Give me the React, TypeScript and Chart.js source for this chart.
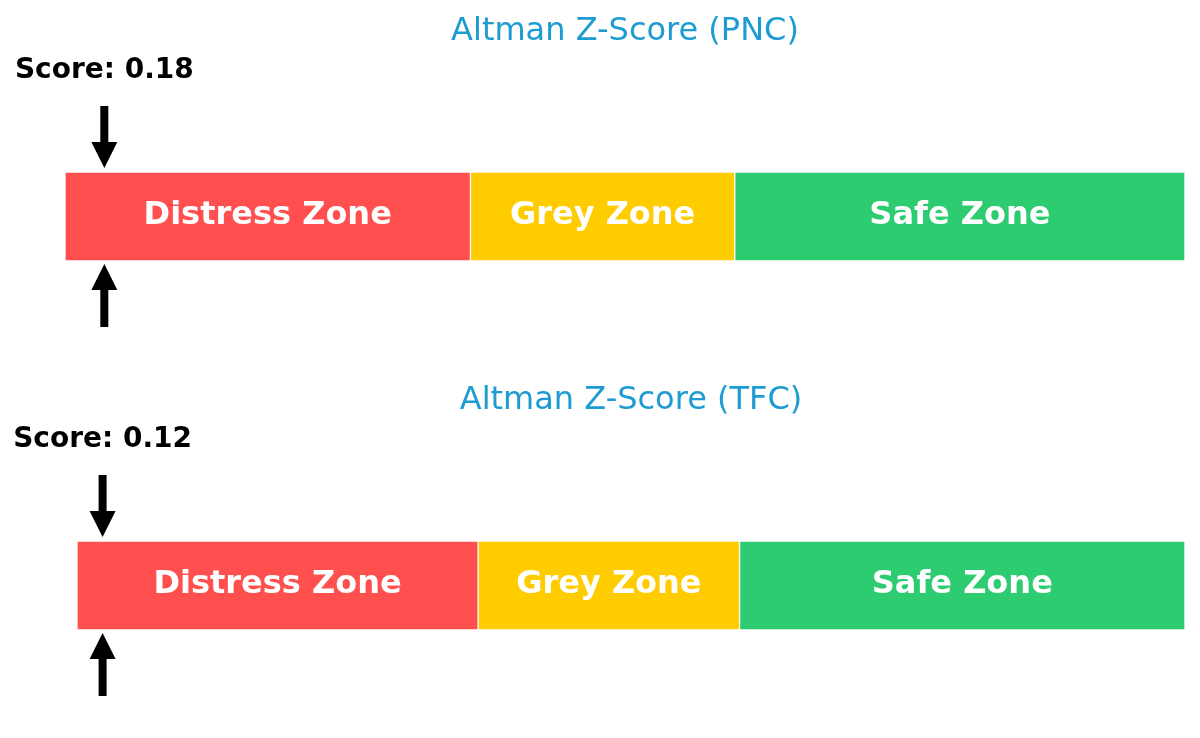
import React, { useEffect, useRef } from 'react';
import { Chart, registerables } from 'chart.js';

Chart.register(...registerables);

// data
const companies = ['PNC', 'TFC'];
const scores = [0.18, 0.12];
const zoneNames = ['Distress Zone', 'Grey Zone', 'Safe Zone'];
const zoneStarts = [0, 1.81, 2.99];
const zoneEnds = [1.81, 2.99, 5];
const axisMin = 0;
const axisMax = 5;

// styling
const zoneColors = ['#ff4f4f', '#ffcc00', '#2ecc71'];
const titleColor = '#1d9bd3';
const leftPads = [65, 77];

const overlayPlugin = {
  id: 'zoneOverlay',
  afterDatasetsDraw(chart: any, _args: any, opts: any) {
    const ctx = chart.ctx;
    const area = chart.chartArea;
    ctx.save();
    // zone labels in the middle of each bar
    ctx.fillStyle = '#ffffff';
    ctx.font = 'bold 32px "DejaVu Sans"';
    ctx.textAlign = 'center';
    ctx.textBaseline = 'middle';
    chart.data.datasets.forEach((ds: any, i: number) => {
      const el = chart.getDatasetMeta(i).data[0];
      if (!el) return;
      const { x, base, y } = el.getProps(['x', 'base', 'y'], true);
      ctx.fillText(ds.label, (x + base) / 2, y - 1);
    });

    // score marker
    const sx = chart.scales.x.getPixelForValue(opts.score) - 1;
    ctx.fillStyle = '#000000';
    ctx.font = 'bold 28px "DejaVu Sans"';
    ctx.fillText('Score: ' + opts.score.toFixed(2), sx, area.top - 101);

    const shaft = 4;
    const head = 13;
    // arrow above, pointing down
    ctx.beginPath();
    ctx.moveTo(sx - shaft, area.top - 66);
    ctx.lineTo(sx + shaft, area.top - 66);
    ctx.lineTo(sx + shaft, area.top - 30);
    ctx.lineTo(sx + head, area.top - 30);
    ctx.lineTo(sx, area.top - 4);
    ctx.lineTo(sx - head, area.top - 30);
    ctx.lineTo(sx - shaft, area.top - 30);
    ctx.closePath();
    ctx.fill();
    // arrow below, pointing up
    ctx.beginPath();
    ctx.moveTo(sx - shaft, area.bottom + 66);
    ctx.lineTo(sx + shaft, area.bottom + 66);
    ctx.lineTo(sx + shaft, area.bottom + 29);
    ctx.lineTo(sx + head, area.bottom + 29);
    ctx.lineTo(sx, area.bottom + 3);
    ctx.lineTo(sx - head, area.bottom + 29);
    ctx.lineTo(sx - shaft, area.bottom + 29);
    ctx.closePath();
    ctx.fill();
    ctx.restore();
  },
};

function ZScoreBar({ company, score, padLeft }: { company: string; score: number; padLeft: number }) {
  const canvasRef = useRef<HTMLCanvasElement>(null);

  useEffect(() => {
    if (!canvasRef.current) return;
    const chart = new Chart(canvasRef.current, {
      type: 'bar',
      data: {
        labels: [company],
        datasets: zoneNames.map((name, i) => ({
          label: name,
          data: [[zoneStarts[i], zoneEnds[i]]],
          backgroundColor: zoneColors[i],
          borderColor: '#ffffff',
          borderWidth: 1,
          borderSkipped: false,
          grouped: false,
          barPercentage: 1,
          categoryPercentage: 1,
        })) as any,
      },
      options: {
        indexAxis: 'y',
        animation: false,
        responsive: true,
        maintainAspectRatio: false,
        layout: { padding: { left: padLeft, right: 15, top: 0, bottom: 108 } },
        scales: {
          x: { display: false, min: axisMin, max: axisMax },
          y: { display: false },
        },
        plugins: {
          legend: { display: false },
          tooltip: { enabled: false },
          title: {
            display: true,
            text: 'Altman Z-Score (' + company + ')',
            color: titleColor,
            font: { family: '"DejaVu Sans"', size: 32, weight: 'normal' },
            padding: { top: 12, bottom: 121.6 },
          },
          zoneOverlay: { score },
        } as any,
      },
      plugins: [overlayPlugin],
    });
    return () => chart.destroy();
  }, [company, score, padLeft]);

  return (
    <div style={{ position: 'relative', width: '1200px', height: '369px' }}>
      <canvas ref={canvasRef} />
    </div>
  );
}

export default function App() {
  useEffect(() => {
    document.body.style.margin = '0';
    document.body.style.background = '#ffffff';
  }, []);

  return (
    <div style={{ position: 'absolute', left: 0, top: 0, width: '1200px', height: '738px', background: '#ffffff' }}>
      {companies.map((c, i) => (
        <ZScoreBar key={c} company={c} score={scores[i]} padLeft={leftPads[i]} />
      ))}
    </div>
  );
}
